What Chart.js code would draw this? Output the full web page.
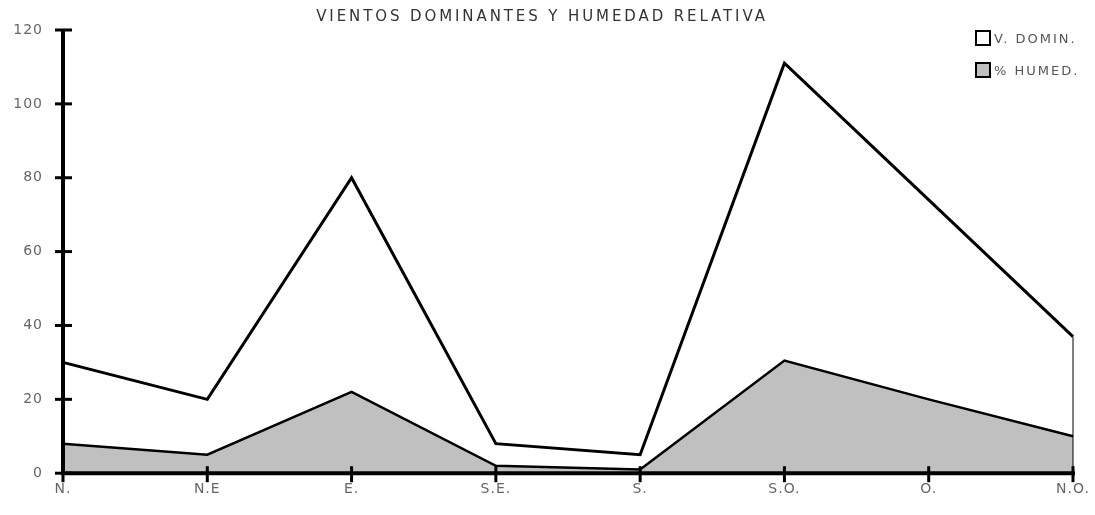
<!DOCTYPE html>
<html>
<head>
<meta charset="utf-8">
<script src="https://cdn.jsdelivr.net/npm/chart.js@4.4.1/dist/chart.umd.min.js"></script>
<style>
  html, body { margin: 0; padding: 0; background: #fff; }
  #wrap { position: relative; width: 1095px; height: 515px; }
  #legend { position: absolute; left: 975px; top: 30px; font-family: "DejaVu Sans", sans-serif; font-size: 13px; letter-spacing: 2px; color: #555; }
  #legend div { display: flex; align-items: center; height: 16px; margin-bottom: 16px; }
  #legend span.box { display: inline-block; width: 12px; height: 12px; border: 2px solid #000; margin-right: 3px; }
</style>
</head>
<body>
<div id="wrap">
  <canvas id="chart" width="1095" height="515"></canvas>
  <div id="legend"></div>
</div>
<script>
// --- Data ---
const categories = ["N.", "N.E", "E.", "S.E.", "S.", "S.O.", "O.", "N.O."];
const vientos = [30, 20, 80, 8, 5, 111, 74, 37];
const humedad = [8, 5, 22, 2, 1, 30.5, 20, 10];
const yTicks = [0, 20, 40, 60, 80, 100, 120];
const seriesNames = ["V. DOMIN.", "% HUMED."];
const seriesFill = ["#ffffff", "#c0c0c0"];
const titleText = 'VIENTOS DOMINANTES Y HUMEDAD RELATIVA';

// wide lettering, closer to the original's typeface
const spacing = {
  id: 'spacing',
  beforeUpdate(chart) { chart.ctx.letterSpacing = '1px'; },
  beforeDraw(chart) { chart.ctx.letterSpacing = '1px'; },
  afterDraw(chart) {
    const ctx = chart.ctx;
    ctx.save();
    ctx.letterSpacing = '2.9px';
    ctx.font = '15px "DejaVu Sans"';
    ctx.fillStyle = '#333';
    ctx.textAlign = 'center';
    ctx.textBaseline = 'middle';
    ctx.fillText(titleText, 542, 17);
    ctx.restore();
  }
};

// --- Axis ticks crossing the axis lines, plus closing edge of the area ---
const axisMarks = {
  id: 'axisMarks',
  afterDatasetsDraw(chart) {
    const { ctx, scales: { x, y } } = chart;
    ctx.save();
    ctx.strokeStyle = '#000';
    // closing edge at last category
    const lastX = x.getPixelForValue(categories.length - 1);
    ctx.lineWidth = 1;
    ctx.beginPath();
    ctx.moveTo(lastX, y.getPixelForValue(vientos[vientos.length - 1]));
    ctx.lineTo(lastX, y.getPixelForValue(0));
    ctx.stroke();
    // axis lines
    ctx.lineWidth = 4;
    ctx.beginPath();
    ctx.moveTo(x.left, y.getPixelForValue(120) - 1);
    ctx.lineTo(x.left, y.getPixelForValue(0) + 2);
    ctx.moveTo(x.left - 2, y.getPixelForValue(0));
    ctx.lineTo(x.getPixelForValue(categories.length - 1) + 2, y.getPixelForValue(0));
    ctx.stroke();
    // y ticks
    ctx.lineWidth = 3;
    yTicks.forEach(v => {
      const py = y.getPixelForValue(v);
      ctx.beginPath();
      ctx.moveTo(x.left - 8, py);
      ctx.lineTo(x.left + 9, py);
      ctx.stroke();
    });
    // x ticks
    categories.forEach((c, i) => {
      const px = x.getPixelForValue(i);
      const py = y.getPixelForValue(0);
      ctx.beginPath();
      ctx.moveTo(px, py - 7);
      ctx.lineTo(px, py + 9);
      ctx.stroke();
    });
    ctx.restore();
  }
};

const ctx = document.getElementById('chart').getContext('2d');
new Chart(ctx, {
  type: 'line',
  data: {
    labels: categories,
    datasets: [
      {
        label: seriesNames[0],
        data: vientos,
        borderColor: '#000',
        borderWidth: 3,
        backgroundColor: seriesFill[0],
        fill: 'origin',
        pointRadius: 0,
        tension: 0,
        order: 2
      },
      {
        label: seriesNames[1],
        data: humedad,
        borderColor: '#000',
        borderWidth: 2.5,
        backgroundColor: seriesFill[1],
        fill: 'origin',
        pointRadius: 0,
        tension: 0,
        order: 1
      }
    ]
  },
  options: {
    responsive: false,
    animation: false,
    layout: { padding: { left: 0, right: 22, top: 30, bottom: 9 } },
    plugins: {
      legend: { display: false },
      tooltip: { enabled: false },
      title: { display: false }
    },
    scales: {
      x: {
        offset: false,
        afterFit: axis => { axis.paddingLeft = 0; axis.paddingRight = 0; },
        grid: { display: false, drawTicks: false, tickLength: 0 },
        border: { display: false },
        ticks: { color: '#666', font: { family: 'DejaVu Sans', size: 14 }, padding: 8, maxRotation: 0 }
      },
      y: {
        min: 0,
        max: 120,
        afterBuildTicks: axis => { axis.ticks = yTicks.map(v => ({ value: v })); },
        afterFit: axis => { axis.width = 63; },
        grid: { display: false, drawTicks: false, tickLength: 0 },
        border: { display: false },
        ticks: { color: '#666', font: { family: 'DejaVu Sans', size: 14 }, padding: 20 }
      }
    }
  },
  plugins: [spacing, axisMarks]
});

// --- Legend ---
const legend = document.getElementById('legend');
seriesNames.forEach((name, i) => {
  const row = document.createElement('div');
  const box = document.createElement('span');
  box.className = 'box';
  box.style.background = seriesFill[i];
  row.appendChild(box);
  row.appendChild(document.createTextNode(name));
  legend.appendChild(row);
});
</script>
</body>
</html>
